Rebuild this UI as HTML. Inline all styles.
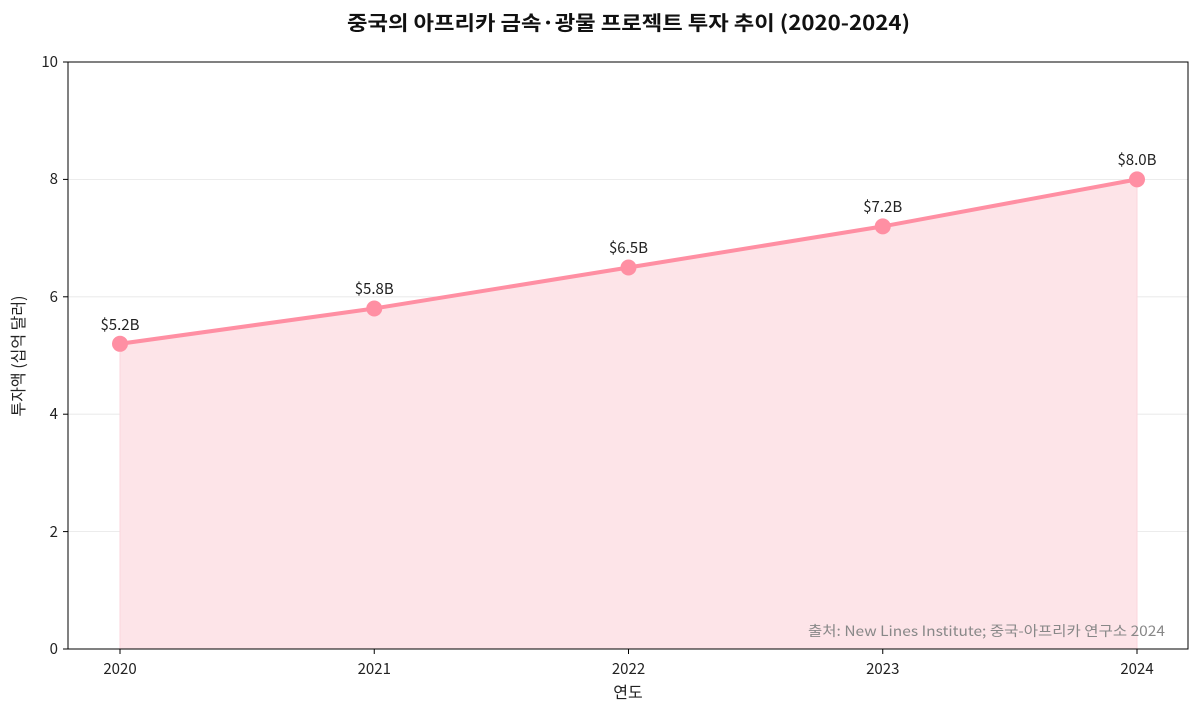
<!DOCTYPE html>
<html><head><meta charset="utf-8"><style>
body{margin:0;background:#fff;}
svg{display:block;font-family:"Noto Sans CJK KR","Liberation Sans",sans-serif;}
</style></head><body>
<svg width="1200" height="714" xmlns="http://www.w3.org/2000/svg">
<rect width="1200" height="714" fill="#fff"/>
<g stroke="#e6e6e6" stroke-width="0.8">
<line x1="68" x2="1188" y1="531.6" y2="531.6"/>
<line x1="68" x2="1188" y1="414.2" y2="414.2"/>
<line x1="68" x2="1188" y1="296.8" y2="296.8"/>
<line x1="68" x2="1188" y1="179.4" y2="179.4"/>
</g>
<polygon points="120,343.8 374.25,308.5 628.5,267.5 882.75,226.4 1137,179.4 1137,649 120,649" fill="#fde4e8" stroke="#fbd6dc" stroke-width="1"/>
<polyline points="120,343.8 374.25,308.5 628.5,267.5 882.75,226.4 1137,179.4" fill="none" stroke="#ff8fa3" stroke-width="4"/>
<g fill="#ff8fa3">
<circle cx="120" cy="343.8" r="8"/><circle cx="374.25" cy="308.5" r="8"/><circle cx="628.5" cy="267.5" r="8"/><circle cx="882.75" cy="226.4" r="8"/><circle cx="1137" cy="179.4" r="8"/>
</g>
<g font-size="15" fill="#222" text-anchor="middle">
<text x="120" y="330">$5.2B</text><text x="374.25" y="294">$5.8B</text><text x="628.5" y="253">$6.5B</text><text x="882.75" y="212">$7.2B</text><text x="1137" y="165">$8.0B</text>
</g>
<rect x="68" y="62" width="1120" height="587" fill="none" stroke="#000" stroke-width="1"/>
<g stroke="#000" stroke-width="1">
<line x1="120" x2="120" y1="649" y2="654"/><line x1="374.25" x2="374.25" y1="649" y2="654"/><line x1="628.5" x2="628.5" y1="649" y2="654"/><line x1="882.75" x2="882.75" y1="649" y2="654"/><line x1="1137" x2="1137" y1="649" y2="654"/>
<line x1="63" x2="68" y1="649" y2="649"/><line x1="63" x2="68" y1="531.6" y2="531.6"/><line x1="63" x2="68" y1="414.2" y2="414.2"/><line x1="63" x2="68" y1="296.8" y2="296.8"/><line x1="63" x2="68" y1="179.4" y2="179.4"/><line x1="63" x2="68" y1="62" y2="62"/>
</g>
<g font-size="15" fill="#222" text-anchor="middle">
<text x="120" y="674">2020</text><text x="374.25" y="674">2021</text><text x="628.5" y="674">2022</text><text x="882.75" y="674">2023</text><text x="1137" y="674">2024</text>
</g>
<g font-size="15" fill="#222" text-anchor="end">
<text x="58" y="654">0</text><text x="58" y="537">2</text><text x="58" y="419">4</text><text x="58" y="302">6</text><text x="58" y="184">8</text><text x="58" y="67">10</text>
</g>
<text x="628" y="698" font-size="16" text-anchor="middle" fill="#222">연도</text>
<text transform="translate(24,356) rotate(-90)" font-size="16" text-anchor="middle" fill="#222">투자액 (십억 달러)</text>
<text x="347" y="30" font-size="20" font-weight="bold" fill="#111" textLength="563" lengthAdjust="spacingAndGlyphs">중국의 아프리카 금속·광물 프로젝트 투자 추이 (2020-2024)</text>
<text x="808" y="636" font-size="14" fill="#888" textLength="357" lengthAdjust="spacingAndGlyphs">출처: New Lines Institute; 중국-아프리카 연구소 2024</text>
</svg>
</body></html>
